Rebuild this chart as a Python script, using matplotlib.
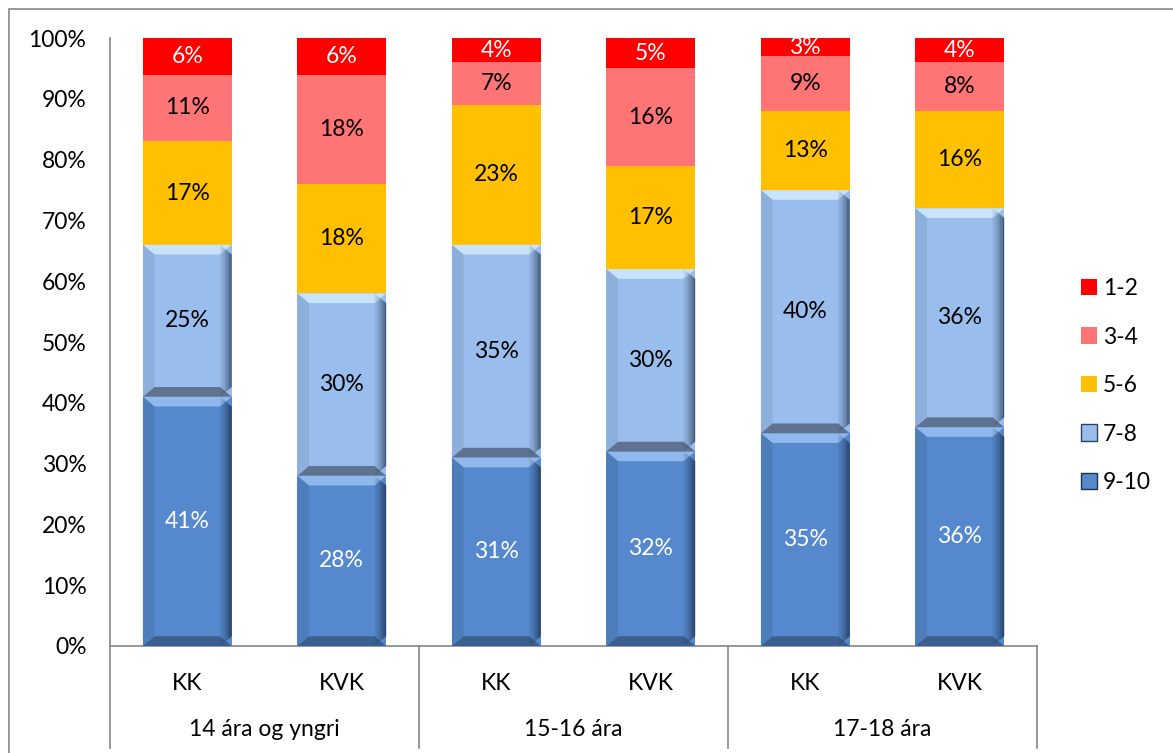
import numpy as np
import matplotlib.pyplot as plt
from matplotlib.patches import Patch, Polygon, Rectangle

plt.rcParams['font.family'] = ['Lato', 'DejaVu Sans']

groups = ["14 ára og yngri", "15-16 ára", "17-18 ára"]
sub_labels = ["KK", "KVK", "KK", "KVK", "KK", "KVK"]
series_names = ["9-10", "7-8", "5-6", "3-4", "1-2"]

# percent per bar, bottom to top
s_9_10 = [41, 28, 31, 32, 35, 36]
s_7_8 = [25, 30, 35, 30, 40, 36]
s_5_6 = [17, 18, 23, 17, 13, 16]
s_3_4 = [11, 18, 7, 16, 9, 8]
s_1_2 = [6, 6, 4, 5, 3, 4]

series = [s_9_10, s_7_8, s_5_6, s_3_4, s_1_2]
colors = ["#5588cc", "#99bdec", "#ffc000", "#ff7474", "#ff0000"]
text_colors = ["white", "black", "black", "black", "white"]
# bevel colours for the two blue series: top, bottom, left, right
bevels = {
    0: ["#8fb9ee", "#3b5f8f", "#4a77b2", "#1f3350"],
    1: ["#c8e3fb", "#5f7390", "#84a6d2", "#2f4460"],
}

fig = plt.figure(figsize=(11.73, 7.53), dpi=100)
ax = fig.add_axes([0.0938, 0.1421, 0.7903, 0.8074])

x = np.arange(len(sub_labels))
w = 0.575
bottom = np.zeros(len(x))
for i, vals in enumerate(series):
    vals = np.array(vals, dtype=float)
    bars = ax.bar(x, vals, w, bottom=bottom, color=colors[i], edgecolor="none", zorder=2)
    if i in bevels:
        top_c, bot_c, left_c, right_c = bevels[i]
        dx, dy = 0.075, 1.6
        for b in bars:
            x0, y0 = b.get_x(), b.get_y()
            x1, y1 = x0 + b.get_width(), y0 + b.get_height()
            ax.add_patch(Polygon([(x0, y1), (x1, y1), (x1 - dx, y1 - dy), (x0 + dx, y1 - dy)],
                                 color=top_c, lw=0, zorder=3))
            ax.add_patch(Polygon([(x0, y0), (x1, y0), (x1 - dx, y0 + dy), (x0 + dx, y0 + dy)],
                                 color=bot_c, lw=0, zorder=3))
            ax.add_patch(Polygon([(x0, y0), (x0 + dx, y0 + dy), (x0 + dx, y1 - dy), (x0, y1)],
                                 color=left_c, lw=0, alpha=0.6, zorder=3))
            # right side shading, fading in towards the edge
            n = 8
            for k in range(n):
                xa = x1 - dx + dx * k / n
                ax.add_patch(Polygon([(xa, y0 + dy * k / n), (xa + dx / n, y0 + dy * (k + 1) / n),
                                      (xa + dx / n, y1 - dy * (k + 1) / n), (xa, y1 - dy * k / n)],
                                     color=right_c, lw=0, alpha=0.1 + 0.9 * (k / n) ** 1.5, zorder=3))
    for xi, v, b0 in zip(x, vals, bottom):
        ax.text(xi, b0 + v / 2, f"{v:.0f}%", ha="center", va="center",
                fontsize=16.5, color=text_colors[i], zorder=4)
    bottom += vals

ax.set_xlim(-0.5, 5.5)
ax.set_ylim(0, 100)
ax.set_yticks(np.arange(0, 101, 10))
ax.set_yticklabels([f"{t}%" for t in range(0, 101, 10)])
ax.tick_params(axis="y", length=0, pad=17, labelsize=16.5)
ax.set_xticks([])
for s in ["top", "right", "left"]:
    ax.spines[s].set_visible(False)
ax.spines["bottom"].set_color("#868686")
ax.spines["bottom"].set_linewidth(1.2)

tr = ax.get_xaxis_transform()
for xb in [-0.5, 1.5, 3.5, 5.5]:
    top = 1.0 if xb == -0.5 else 0.0
    ax.plot([xb, xb], [top, -0.168], transform=tr, color="#868686", lw=1.2, clip_on=False)
for xi, lab in zip(x, sub_labels):
    ax.text(xi, -0.061, lab, transform=tr, ha="center", va="center", fontsize=16.5)
for gi, g in enumerate(groups):
    ax.text(2 * gi + 0.5, -0.138, g, transform=tr, ha="center", va="center", fontsize=16.5)

# chart area border
fig.patches.append(Rectangle((9 / 1173, -0.1), 1.2, 1 - 9 / 753 + 0.1, transform=fig.transFigure,
                             fill=False, edgecolor="#868686", lw=1.2))

handles = [Patch(facecolor=colors[i], edgecolor=(bevels[i][3] if i in bevels else "none"))
           for i in range(4, -1, -1)]
labels = [series_names[i] for i in range(4, -1, -1)]
fig.legend(handles, labels, loc="center left", bbox_to_anchor=(0.904, 0.488), frameon=False,
           fontsize=16.5, handlelength=0.7, handleheight=0.7, handletextpad=0.25, labelspacing=1.2)

fig.savefig("out.png", dpi=100)
